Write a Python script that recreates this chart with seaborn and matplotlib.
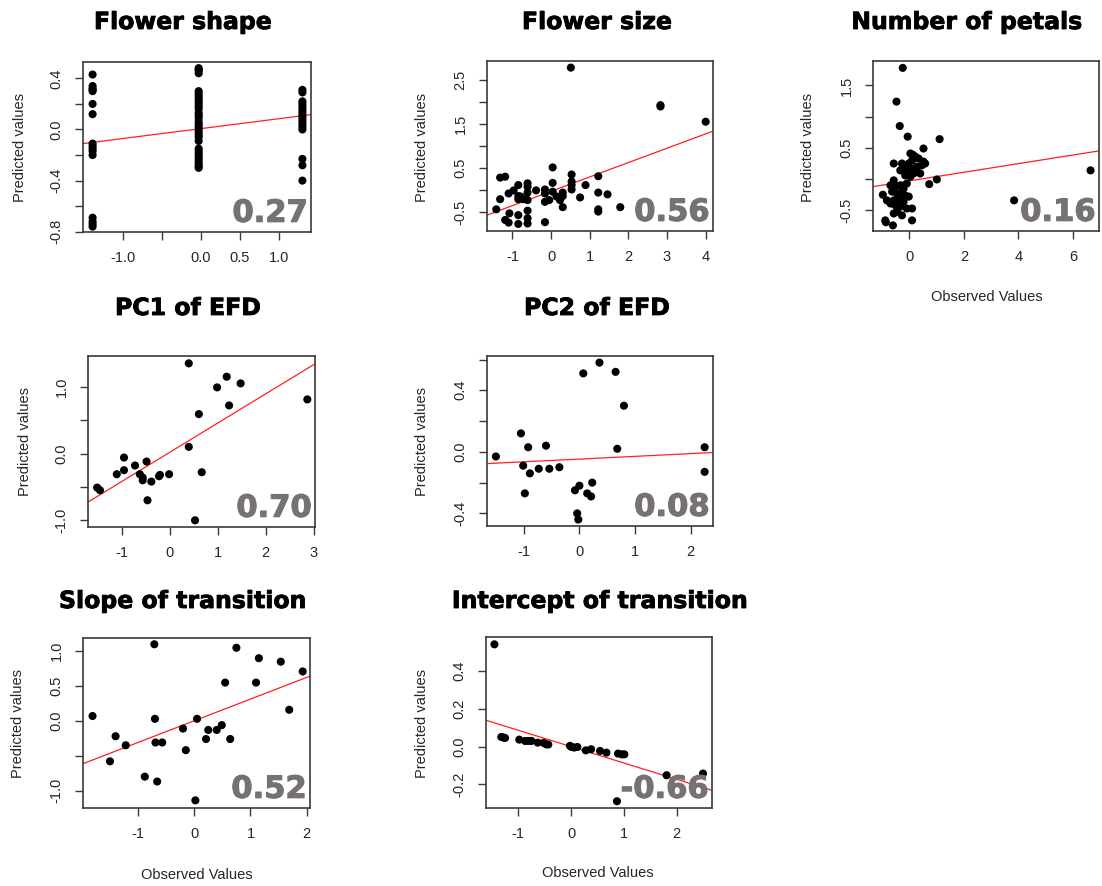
import numpy as np
import matplotlib
matplotlib.use("Agg")
import matplotlib.pyplot as plt
import matplotlib.patheffects as pe
import seaborn as sns

# ---------------- data ----------------
titles = ["Flower shape", "Flower size", "Number of petals", "PC1 of EFD",
          "PC2 of EFD", "Slope of transition", "Intercept of transition"]
correlations = ["0.27", "0.56", "0.16", "0.70", "0.08", "0.52", "-0.66"]

# Flower shape (three observed classes)
shape_left_pred = [0.43, 0.34, 0.32, 0.31, 0.30, 0.20, 0.12, -0.11, -0.13, -0.15,
                   -0.17, -0.20, -0.69, -0.72, -0.74, -0.76]
shape_mid_pred = [0.48, 0.47, 0.46, 0.44, 0.30, 0.28, 0.26, 0.24, 0.22, 0.20, 0.18,
                  0.16, 0.13, 0.11, 0.09, 0.06, 0.04, 0.02, 0.0, -0.02, -0.04, -0.06,
                  -0.09, -0.15, -0.17, -0.19, -0.21, -0.23, -0.25, -0.27, -0.29, -0.30]
shape_right_pred = [0.31, 0.29, 0.22, 0.20, 0.18, 0.16, 0.14, 0.12, 0.10, 0.08, 0.06,
                    0.04, 0.02, 0.0, -0.23, -0.28, -0.40]
shape_classes = [-1.39, -0.03, 1.30]
shape_obs = ([shape_classes[0]] * len(shape_left_pred) + [shape_classes[1]] * len(shape_mid_pred)
             + [shape_classes[2]] * len(shape_right_pred))
shape_pred = shape_left_pred + shape_mid_pred + shape_right_pred

# Flower size
size_obs = [0.51, 2.83, 2.83, 4.0, -1.42, -1.32, -1.32, -1.19, -1.10, -0.97, -1.08, -1.19,
            -1.10, -0.85, -0.85, -0.85, -0.79, -0.85, -0.85, -0.61, -0.61, -0.61, -0.61,
            -0.61, -0.61, -0.61, -0.72, -0.39, -0.16, -0.16, -0.16, -0.16, 0.04, 0.04, 0.04,
            -0.05, 0.14, 0.23, 0.30, 0.30, 0.30, 0.53, 0.53, 0.53, 0.53, 0.75, 0.89, 1.22,
            1.22, 1.22, 1.22, 1.46, 1.79]
size_pred = [2.78, 1.93, 1.90, 1.555, -0.43, -0.20, 0.29, 0.31, -0.07, 0.0, -0.52, -0.67,
             -0.73, 0.12, -0.13, -0.20, -0.14, -0.56, -0.76, 0.16, 0.08, -0.05, -0.22,
             -0.46, -0.63, -0.75, -0.20, 0.0, 0.02, -0.07, -0.26, -0.72, 0.52, 0.17, -0.03,
             -0.22, -0.14, -0.22, -0.05, -0.13, -0.38, 0.36, 0.20, 0.12, 0.02, -0.16, 0.12,
             0.32, -0.05, -0.43, -0.48, -0.09, -0.38]

# Number of petals
petals_obs = [-0.24, -0.47, -0.35, -0.06, 1.11, 0.52, 6.64, 3.84, 1.01, 0.73, -0.57, -0.57,
              -0.97, -0.88, -0.86, -0.60, 0.10, 0.10, -0.09,
              0.04, 0.13, 0.22, 0.34, 0.52, 0.46, 0.28, 0.10, -0.09, -0.21, -0.27, -0.33,
              -0.15, 0.04, 0.16, 0.28, 0.40, 0.58, 0.10, -0.02,
              -0.69, -0.51, -0.33, -0.21, -0.09, -0.63, -0.45, -0.27, -0.15, -0.02, -0.57,
              -0.39, -0.21, -0.69, -0.51, -0.33, -0.45, -0.27, -0.57, -0.39, -0.82]
petals_pred = [1.78, 1.24, 0.85, 0.68, 0.64, 0.49, 0.14, -0.34, -0.005, -0.08, 0.25, -0.02,
               -0.25, -0.66, -0.69, -0.74, -0.66, -0.47, -0.47,
               0.41, 0.39, 0.36, 0.33, 0.28, 0.22, 0.20, 0.17, 0.14, 0.22, 0.25, 0.14,
               0.06, 0.04, 0.09, 0.12, 0.09, 0.25, 0.30, 0.25,
               -0.10, -0.12, -0.10, -0.15, -0.07, -0.20, -0.23, -0.20, -0.26, -0.28, -0.34,
               -0.31, -0.36, -0.39, -0.42, -0.44, -0.52, -0.58, -0.55, -0.39, -0.34]

# PC1 of EFD
pc1_obs = [-1.51, -1.45, -1.10, -0.95, -0.95, -0.72, -0.62, -0.56, -0.56, -0.48, -0.46,
           -0.38, -0.22, -0.20, -0.01, 0.40, 0.40, 0.53, 0.61, 0.67, 0.99, 1.19, 1.24,
           1.48, 2.87]
pc1_pred = [-0.51, -0.55, -0.31, -0.06, -0.25, -0.18, -0.31, -0.36, -0.40, -0.12, -0.70,
            -0.42, -0.34, -0.32, -0.31, 0.10, 1.35, -1.00, 0.59, -0.28, 0.99, 1.15, 0.72,
            1.05, 0.81]

# PC2 of EFD
pc2_obs = [-1.50, -1.05, -1.01, -0.98, -0.92, -0.89, -0.73, -0.60, -0.54, -0.36, -0.08,
           -0.04, -0.02, 0.00, 0.07, 0.14, 0.21, 0.23, 0.36, 0.65, 0.68, 0.80, 2.25, 2.25]
pc2_pred = [-0.03, 0.12, -0.09, -0.27, 0.03, -0.14, -0.11, 0.04, -0.11, -0.10, -0.25,
            -0.40, -0.44, -0.22, 0.51, -0.27, -0.29, -0.20, 0.58, 0.52, 0.02, 0.30, 0.03,
            -0.13]

# Slope of transition
slope_obs = [-1.81, -1.50, -1.40, -1.22, -0.88, -0.71, -0.70, -0.69, -0.66, -0.57, -0.20,
             -0.15, 0.02, 0.05, 0.21, 0.25, 0.40, 0.49, 0.55, 0.64, 0.75, 1.10, 1.15, 1.54,
             1.69, 1.93]
slope_pred = [0.07, -0.58, -0.22, -0.35, -0.80, 1.10, 0.03, -0.31, -0.87, -0.31, -0.11,
              -0.42, -1.14, 0.03, -0.26, -0.13, -0.13, -0.06, 0.55, -0.26, 1.05, 0.55, 0.90,
              0.85, 0.16, 0.71]

# Intercept of transition
icpt_obs = [-1.45, -1.32, -1.28, -1.25, -0.98, -0.87, -0.81, -0.75, -0.63, -0.52, -0.47,
            -0.43, -0.02, 0.01, 0.06, 0.12, 0.28, 0.38, 0.55, 0.67, 0.89, 0.96, 1.01, 0.87,
            1.81, 2.50]
icpt_pred = [0.543, 0.051, 0.048, 0.046, 0.037, 0.030, 0.030, 0.030, 0.021, 0.020, 0.012,
             0.011, 0.004, -0.002, -0.005, -0.002, -0.020, -0.014, -0.023, -0.032, -0.037,
             -0.041, -0.041, -0.29, -0.152, -0.143]

# fitted regression lines (intercept, slope)
fit_intercepts = [0.007, -0.02, -0.028, 0.017, -0.047, 0.002, 0.0]
fit_slopes = [0.0775, 0.325, 0.069, 0.4376, 0.0177, 0.311, -0.0869]

# tick values and labels
xticks_list = [[-1.0, -0.5, 0.0, 0.5, 1.0], [-1, 0, 1, 2, 3, 4], [0, 2, 4, 6],
               [-1, 0, 1, 2, 3], [-1, 0, 1, 2], [-1, 0, 1, 2], [-1, 0, 1, 2]]
xticklabels_list = [["-1.0", "", "0.0", "0.5", "1.0"], ["-1", "0", "1", "2", "3", "4"],
                    ["0", "2", "4", "6"], ["-1", "0", "1", "2", "3"], ["-1", "0", "1", "2"],
                    ["-1", "0", "1", "2"], ["-1", "0", "1", "2"]]
yticks_list = [[-0.8, -0.6, -0.4, -0.2, 0.0, 0.2, 0.4],
               [-0.5, 0.0, 0.5, 1.0, 1.5, 2.0, 2.5],
               [-0.5, 0.0, 0.5, 1.0, 1.5],
               [-1.0, -0.5, 0.0, 0.5, 1.0],
               [-0.4, -0.2, 0.0, 0.2, 0.4, 0.6],
               [-1.0, -0.5, 0.0, 0.5, 1.0],
               [-0.2, 0.0, 0.2, 0.4]]
yticklabels_list = [["-0.8", "", "-0.4", "", "0.0", "", "0.4"],
                    ["-0.5", "", "0.5", "", "1.5", "", "2.5"],
                    ["-0.5", "", "0.5", "", "1.5"],
                    ["-1.0", "", "0.0", "", "1.0"],
                    ["-0.4", "", "0.0", "", "0.4", ""],
                    ["-1.0", "", "0.0", "0.5", "1.0"],
                    ["-0.2", "0.0", "0.2", "0.4"]]

obs_list = [shape_obs, size_obs, petals_obs, pc1_obs, pc2_obs, slope_obs, icpt_obs]
pred_list = [shape_pred, size_pred, petals_pred, pc1_pred, pc2_pred, slope_pred, icpt_pred]

# ---------------- layout (pixels) ----------------
W, H = 1102, 886
# left, right, top, bottom of each plot box
boxes = [(83, 311, 62, 232), (487, 713, 61, 231), (873, 1099, 61, 231),
         (88, 315, 356, 527), (487, 713, 356, 526), (83, 310, 638, 808),
         (486, 712, 637, 808)]
xlims = [(-1.513, 1.41), (-1.66, 4.19), (-1.33, 6.95), (-1.70, 3.03), (-1.66, 2.40),
         (-1.98, 2.06), (-1.61, 2.67)]
ylims = [(-0.802, 0.528), (-0.92, 2.93), (-0.83, 1.89), (-1.10, 1.46), (-0.482, 0.623),
         (-1.25, 1.19), (-0.326, 0.582)]
title_pos = [(183, 22), (597, 22), (967, 22), (188, 308), (597, 308), (183, 601), (600, 601)]
ylabel_pos = [(20, 148), (422, 147), (808, 147), (25, 442), (422, 442), (18, 723), (422, 723)]
xlabel_pos = {2: (987, 297), 5: (197, 875), 6: (598, 873)}

sns.set_style("ticks")
plt.rcParams["font.family"] = ["Liberation Sans", "DejaVu Sans"]

fig = plt.figure(figsize=(W / 100, H / 100), dpi=100)
fig.patch.set_facecolor("white")

frame_col = "#3a3a3a"
text_col = "#262626"

for i in range(7):
    l, r, t, b = boxes[i]
    ax = fig.add_axes([l / W, 1 - b / H, (r - l) / W, (b - t) / H])
    sns.scatterplot(x=obs_list[i], y=pred_list[i], ax=ax, color="black", s=34,
                    edgecolor="none", linewidth=0, zorder=3)
    ax.axline((0, fit_intercepts[i]), slope=fit_slopes[i], color="#ff2020", lw=0.9, zorder=2)
    ax.set_xlim(*xlims[i])
    ax.set_ylim(*ylims[i])
    ax.set_xticks(xticks_list[i])
    ax.set_xticklabels(xticklabels_list[i])
    ax.set_yticks(yticks_list[i])
    ax.set_yticklabels(yticklabels_list[i], rotation=90, va="center")
    ax.tick_params(axis="both", direction="out", length=6, width=1.0, color=frame_col,
                   labelsize=10.5, labelcolor=text_col, pad=8)
    for sp in ax.spines.values():
        sp.set_visible(True)
        sp.set_color(frame_col)
        sp.set_linewidth(1.2)
    ax.set_xlabel("")
    ax.set_ylabel("")
    ax.text(0.985, 0.06, correlations[i], transform=ax.transAxes, ha="right", va="baseline",
            fontsize=22, fontweight="bold", color="#777272", family="DejaVu Sans", zorder=4,
            path_effects=[pe.withStroke(linewidth=0.8, foreground="#777272")])

    tx, ty = title_pos[i]
    fig.text(tx / W, 1 - ty / H, titles[i], ha="center", va="center", fontsize=17,
             fontweight="heavy", family="DejaVu Sans", color="black",
             path_effects=[pe.withStroke(linewidth=0.6, foreground="black")])
    yx, yy = ylabel_pos[i]
    fig.text(yx / W, 1 - yy / H, "Predicted values", ha="center", va="center",
             rotation=90, fontsize=10.5, color=text_col)
    if i in xlabel_pos:
        xx, xy = xlabel_pos[i]
        fig.text(xx / W, 1 - xy / H, "Observed Values", ha="center", va="center",
                 fontsize=10.5, color=text_col)

fig.savefig("out.png", dpi=100, facecolor="white")
